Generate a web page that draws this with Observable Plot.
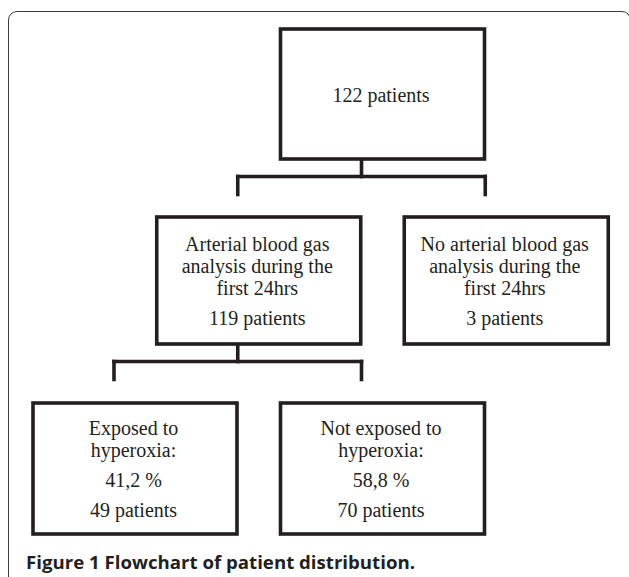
<!DOCTYPE html>
<html>
<head>
<meta charset="utf-8">
<script src="https://cdn.jsdelivr.net/npm/d3@7"></script>
<script src="https://cdn.jsdelivr.net/npm/@observablehq/plot@0.6"></script>
<style>
  html, body { margin: 0; padding: 0; background: #fff; }
  #wrap { position: relative; width: 629px; height: 577px; overflow: hidden; background: #fff; }
  #frame { position: absolute; left: 8px; top: 11px; width: 623px; height: 620px;
           border: 1.5px solid #3c3c3c; border-radius: 9px; box-sizing: border-box; }
  #chart { position: absolute; left: 0; top: 0; }
  #caption { position: absolute; left: 26px; top: 552px; white-space: nowrap;
             font-family: "Open Sans", "Noto Sans", sans-serif; font-weight: 700; font-size: 17px;
             color: #231f20; transform-origin: 0 50%; display: inline-block; line-height: 22px; }
</style>
</head>
<body>
<div id="wrap">
  <div id="frame"></div>
  <div id="chart"></div>
  <div id="caption"></div>
</div>
<script>
// ---- data ----
const boxIds = ["root", "abg", "noAbg", "exposed", "notExposed"];
const boxLabels = [
  [],
  ["Arterial blood gas", "analysis during the", "first 24hrs"],
  ["No arterial blood gas", "analysis during the", "first 24hrs"],
  ["Exposed to", "hyperoxia:"],
  ["Not exposed to", "hyperoxia:"]
];
const boxPercents = [null, null, null, "41,2 %", "58,8 %"];
const boxPatients = [122, 119, 3, 49, 70];
const boxParents = [null, "root", "root", "abg", "abg"];
const boxLevels = [0, 1, 1, 2, 2];
const boxColumns = [2, 1, 3, 0, 2];
const captionText = "Figure 1 Flowchart of patient distribution.";

// ---- layout (code, not data) ----
const W = 629, H = 545;
const colStep = 123.75, col0 = 33, boxW = 204;
const levelTop = [29, 217, 403];
const levelH = [130, 127, 131];
const lineGap = 22, blockGap = 30;
const ink = "#231f20";

const boxes = boxIds.map((id, i) => {
  const x1 = col0 + boxColumns[i] * colStep;
  const y1 = levelTop[boxLevels[i]];
  return {id, x1, x2: x1 + boxW, y1, y2: y1 + levelH[boxLevels[i]], i};
});

// text lines
const texts = [];
boxes.forEach((b, i) => {
  const items = [];
  boxLabels[i].forEach(t => items.push({t, gap: lineGap}));
  if (boxPercents[i]) items.push({t: boxPercents[i], gap: blockGap});
  items.push({t: `${boxPatients[i]} patients`, gap: blockGap});
  let ys = [], y = 0;
  items.forEach((it, k) => { if (k > 0) y += it.gap; ys.push(y); });
  const total = y;
  const cy = (b.y1 + b.y2) / 2 + 1;
  items.forEach((it, k) => texts.push({x: (b.x1 + b.x2) / 2 - 2, y: cy - total / 2 + ys[k], text: it.t}));
});

// connectors: bracket under each parent
const segs = [];
boxIds.forEach((id, i) => {
  if (!boxParents.includes(id)) return;
  const b = boxes[i];
  const stemX = b.x1 + 80.5;
  const barY = b.y2 + 17;
  const dropY = barY + 18;
  const L = stemX - colStep, R = stemX + colStep;
  segs.push({x1: stemX, y1: b.y2, x2: stemX, y2: barY});
  segs.push({x1: L, y1: barY, x2: R, y2: barY});
  segs.push({x1: L, y1: barY, x2: L, y2: dropY});
  segs.push({x1: R, y1: barY, x2: R, y2: dropY});
});

const plot = Plot.plot({
  width: W, height: H, margin: 0,
  x: {domain: [0, W], range: [0, W], axis: null},
  y: {domain: [0, H], range: [0, H], axis: null},
  marks: [
    Plot.link(segs, {x1: "x1", y1: "y1", x2: "x2", y2: "y2", stroke: ink, strokeWidth: 3.6, strokeLinecap: "square"}),
    Plot.rect(boxes, {x1: "x1", x2: "x2", y1: "y1", y2: "y2", fill: "white", stroke: ink, strokeWidth: 3.6, strokeLinejoin: "miter"}),
    Plot.text(texts, {x: "x", y: "y", text: "text", fill: ink, fontSize: 20,
      fontFamily: "Liberation Serif, Times New Roman, serif", textAnchor: "middle", lineAnchor: "middle"})
  ]
});
document.getElementById("chart").appendChild(plot);

const cap = document.getElementById("caption");
cap.textContent = captionText;
const w = cap.getBoundingClientRect().width;
cap.style.transform = `scaleX(${389 / w})`;
</script>
</body>
</html>
